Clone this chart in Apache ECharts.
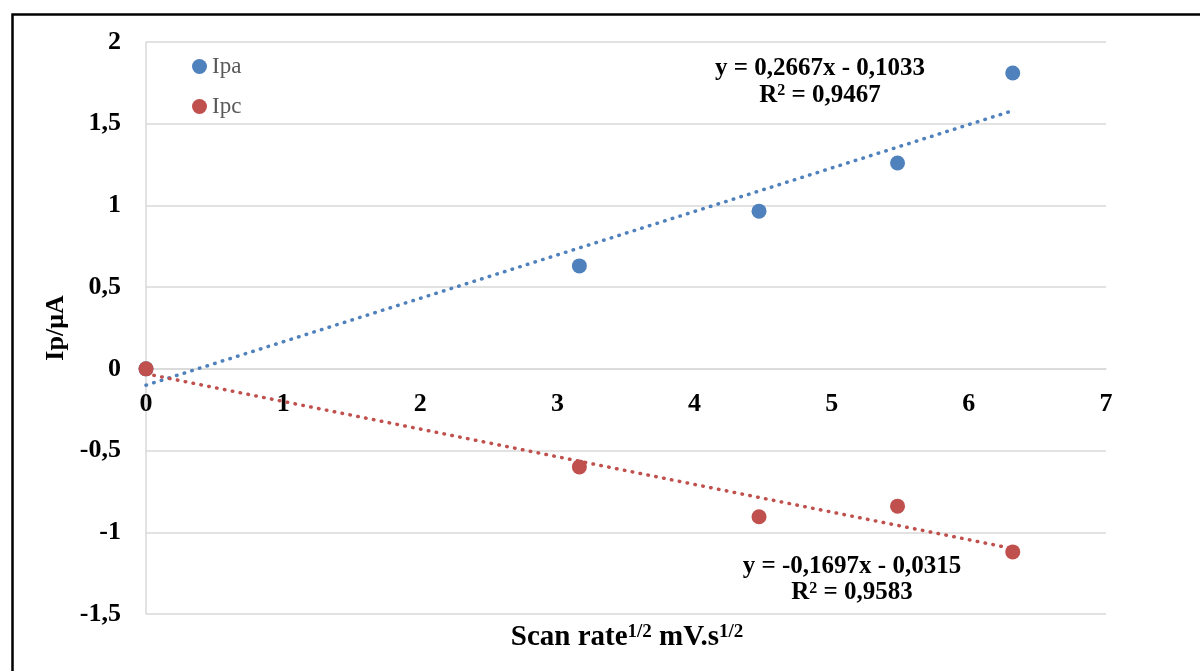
<!DOCTYPE html>
<html>
<head>
<meta charset="utf-8">
<script src="https://cdn.jsdelivr.net/npm/echarts@6/dist/echarts.min.js"></script>
<style>
  html, body { margin: 0; padding: 0; background: #fff; }
  #chart { width: 1200px; height: 671px; }
</style>
</head>
<body>
<div id="chart"></div>
<script>
// scan rate^1/2 values and peak currents
const scanRate = [0, 3.16, 4.47, 5.48, 6.32];
const ipa = [0, 0.63, 0.965, 1.26, 1.81];
const ipc = [0, -0.60, -0.905, -0.84, -1.12];
// trend line ends
const trendIpa = [[0, -0.10], [6.32, 1.58]];
const trendIpc = [[0, -0.03], [6.32, -1.10]];
const yTicks = { min: -1.5, max: 2, step: 0.5 };
const xTicks = { min: 0, max: 7, step: 1 };

const BLUE = '#4f81bd';
const RED = '#c0504d';
const FONT = '"Liberation Serif", "DejaVu Serif", serif';

const chart = echarts.init(document.getElementById('chart'));

const pairs = (xs, ys) => xs.map((x, i) => [x, ys[i]]);
const comma = v => String(v).replace('.', ',');

const dotted = color => ({
  color: color,
  width: 3.5,
  type: [0.5, 7.5],
  cap: 'round'
});

const supRich = size => ({
  sup: { font: 'bold ' + size + 'px ' + FONT, padding: [0, 0, 9, 0] }
});

const option = {
  animation: false,
  backgroundColor: '#fff',
  grid: { left: 146, right: 94, top: 42, bottom: 57 },
  legend: {
    data: ['Ipa', 'Ipc'],
    orient: 'vertical',
    left: 187,
    top: 50,
    icon: 'circle',
    itemWidth: 15,
    itemHeight: 15,
    itemGap: 17,
    textStyle: { fontFamily: FONT, fontSize: 23, color: '#595959', lineHeight: 18 }
  },
  xAxis: {
    type: 'value',
    min: xTicks.min,
    max: xTicks.max,
    interval: xTicks.step,
    // the axis sits on y = 0, which is 245px above the bottom of the plot
    offset: -245,
    axisLine: { onZero: false, lineStyle: { color: '#d9d9d9', width: 1.5 } },
    axisTick: { show: false },
    splitLine: { show: false },
    axisLabel: { fontFamily: FONT, fontSize: 26, fontWeight: 'bold', color: '#000', margin: 22 }
  },
  yAxis: {
    type: 'value',
    min: yTicks.min,
    max: yTicks.max,
    interval: yTicks.step,
    name: 'Ip/μA',
    nameLocation: 'middle',
    nameGap: 77,
    nameTextStyle: { fontFamily: FONT, fontSize: 26, fontWeight: 'bold', color: '#000' },
    axisLine: { show: true, onZero: false, lineStyle: { color: '#d9d9d9', width: 1.5 } },
    axisTick: { show: false },
    splitLine: { lineStyle: { color: '#d9d9d9', width: 1.5 } },
    axisLabel: {
      fontFamily: FONT, fontSize: 26, fontWeight: 'bold', color: '#000', margin: 25,
      formatter: comma
    }
  },
  series: [
    {
      name: 'Ipa trend', type: 'line', data: trendIpa, showSymbol: false,
      silent: true, z: 2, lineStyle: dotted(BLUE)
    },
    {
      name: 'Ipc trend', type: 'line', data: trendIpc, showSymbol: false,
      silent: true, z: 2, lineStyle: dotted(RED)
    },
    {
      name: 'Ipa', type: 'scatter', data: pairs(scanRate, ipa),
      symbolSize: 15, itemStyle: { color: BLUE, opacity: 1 }, z: 3
    },
    {
      name: 'Ipc', type: 'scatter', data: pairs(scanRate, ipc),
      symbolSize: 15, itemStyle: { color: RED, opacity: 1 }, z: 4
    }
  ],
  graphic: [
    {
      type: 'rect', left: 10, top: 12, silent: true,
      shape: { width: 1300, height: 800 },
      style: { fill: 'none', stroke: '#000', lineWidth: 2.5 }
    },
    {
      type: 'text', x: 820, y: 82,
      style: {
        text: 'y = 0,2667x - 0,1033\nR{sup|2} = 0,9467',
        align: 'center', verticalAlign: 'middle',
        font: 'bold 25px ' + FONT, fill: '#000', lineHeight: 27,
        rich: supRich(16)
      }
    },
    {
      type: 'text', x: 852, y: 580,
      style: {
        text: 'y = -0,1697x - 0,0315\nR{sup|2} = 0,9583',
        align: 'center', verticalAlign: 'middle',
        font: 'bold 25px ' + FONT, fill: '#000', lineHeight: 26,
        rich: supRich(16)
      }
    },
    {
      type: 'text', x: 627, y: 638,
      style: {
        text: 'Scan rate{sup|1/2} mV.s{sup|1/2}',
        align: 'center', verticalAlign: 'middle',
        font: 'bold 29px ' + FONT, fill: '#000',
        rich: { sup: { font: 'bold 19px ' + FONT, padding: [0, 0, 11, 0] } }
      }
    }
  ]
};

chart.setOption(option);
</script>
</body>
</html>
